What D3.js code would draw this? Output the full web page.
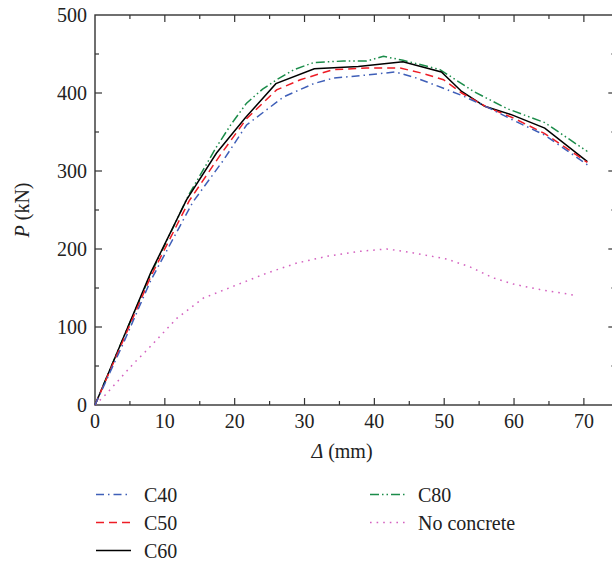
<!DOCTYPE html>
<html>
<head>
<meta charset="utf-8">
<script src="https://cdn.jsdelivr.net/npm/d3@7"></script>
<style>
  body { margin: 0; background: #fff; }
  svg { display: block; font-family: "Liberation Serif", "DejaVu Serif", serif; }
</style>
</head>
<body>
<div id="chart"></div>
<script>
// load-displacement curves, [delta (mm), P (kN)]
const c40 = [[0,0],[4,78],[8,160],[14,260],[18.4,314],[21.7,359],[27,395],[31.3,412],[34.1,419],[38.9,423],[43,427],[46.1,419],[49.9,406],[52.5,397],[56.6,380],[59.9,365],[64.4,346],[70.5,308]];
const c50 = [[0,0],[4,82],[8,165],[13.5,262],[17.9,320],[21.7,367],[26,404],[29.4,417],[34.1,430],[38.9,432],[43.7,432],[47,425],[49.9,417],[52.5,400],[56.1,382],[59.9,368],[64.4,348],[70.5,311]];
const c60 = [[0,0],[4,85],[8,170],[13.1,263],[17.4,323],[21.5,368],[25.9,412],[31.4,431],[37.7,434],[44.1,440],[49.6,427],[52.5,402],[55.8,383],[59.7,372],[64.4,355],[70.5,312]];
const c80 = [[0,0],[4,85],[8,168],[13.4,269],[17.4,331],[19.5,360],[21.7,387],[24,405],[26,417],[28.5,430],[31.3,439],[35.6,441],[38.9,441],[41.3,447],[44.1,442],[49.4,430],[54.2,402],[59,380],[64.4,362],[70.5,325]];
const noConcrete = [[0,0],[1.6,14],[3.6,34],[5.5,53],[7.4,70],[11.7,111],[15.5,137],[20.3,154],[24.6,169],[28.9,182],[33.4,191],[37.9,197],[41.8,200],[45.6,195],[50.4,187],[53.7,177],[57,163],[59.9,155],[63.7,148],[68.5,141]];

const seriesNames = ["C40", "C50", "C60", "C80", "No concrete"];
const seriesData = [c40, c50, c60, c80, noConcrete];
const xTicks = [0, 10, 20, 30, 40, 50, 60, 70];
const yTicks = [0, 100, 200, 300, 400, 500];

const styles = {
    "C40": {color: "#3f5fb8", dash: "8,4,1.5,4"},
    "C50": {color: "#ee1c25", dash: "8,5"},
    "C60": {color: "#000000", dash: null},
    "C80": {color: "#1b8c4a", dash: "9,3,1.5,3,1.5,3"},
    "No concrete": {color: "#d462c0", dash: "1.6,5"}
};

const width = 612, height = 566;
const plotLeft = 95, plotTop = 15, plotBottom = 405;
const xMax = 74.5;

const x = d3.scaleLinear().domain([0, xMax]).range([plotLeft, plotLeft + xMax * 6.984]);
const y = d3.scaleLinear().domain([0, 500]).range([plotBottom, plotTop]);

const svg = d3.select("#chart").append("svg")
    .attr("width", width)
    .attr("height", height);

const axisColor = "#333";

// frame
svg.append("rect")
    .attr("x", x(0)).attr("y", y(500))
    .attr("width", x(xMax) - x(0)).attr("height", y(0) - y(500))
    .attr("fill", "none").attr("stroke", axisColor).attr("stroke-width", 1.4);

// inward ticks on all four sides
const xMinor = d3.range(5, 75, 10);
const yMinor = d3.range(50, 500, 100);
const tickG = svg.append("g").attr("stroke", axisColor).attr("stroke-width", 1.2);

function xTickMarks(vals, len) {
    vals.forEach(v => {
        tickG.append("line").attr("x1", x(v)).attr("x2", x(v)).attr("y1", y(0)).attr("y2", y(0) - len);
        tickG.append("line").attr("x1", x(v)).attr("x2", x(v)).attr("y1", y(500)).attr("y2", y(500) + len);
    });
}
function yTickMarks(vals, len) {
    vals.forEach(v => {
        tickG.append("line").attr("y1", y(v)).attr("y2", y(v)).attr("x1", x(0)).attr("x2", x(0) + len);
        tickG.append("line").attr("y1", y(v)).attr("y2", y(v)).attr("x1", x(xMax)).attr("x2", x(xMax) - len);
    });
}
xTickMarks(xTicks.slice(1), 7);
xTickMarks(xMinor, 4);
yTickMarks(yTicks.slice(1, -1), 7);
yTickMarks(yMinor, 4);

// tick labels
svg.append("g").selectAll("text")
    .data(xTicks)
    .join("text")
    .attr("x", d => x(d))
    .attr("y", 428)
    .attr("text-anchor", "middle")
    .attr("font-size", 20)
    .attr("fill", "#222")
    .text(d => d);

svg.append("g").selectAll("text")
    .data(yTicks)
    .join("text")
    .attr("x", 87)
    .attr("y", d => y(d))
    .attr("dy", "0.34em")
    .attr("text-anchor", "end")
    .attr("font-size", 20)
    .attr("fill", "#222")
    .text(d => d);

// axis titles
const xTitle = svg.append("text")
    .attr("x", 342).attr("y", 458)
    .attr("text-anchor", "middle")
    .attr("font-size", 20)
    .attr("fill", "#222");
xTitle.append("tspan").attr("font-style", "italic").text("Δ");
xTitle.append("tspan").text(" (mm)");

const yTitle = svg.append("text")
    .attr("transform", "translate(29," + ((plotTop + plotBottom) / 2) + ") rotate(-90)")
    .attr("text-anchor", "middle")
    .attr("font-size", 20)
    .attr("fill", "#222");
yTitle.append("tspan").attr("font-style", "italic").text("P");
yTitle.append("tspan").text(" (kN)");

// curves
const line = d3.line()
    .x(d => x(d[0]))
    .y(d => y(d[1]));

svg.append("g").selectAll("path")
    .data(seriesData.map((d, i) => ({name: seriesNames[i], values: d})).reverse())
    .join("path")
    .attr("d", d => line(d.values))
    .attr("fill", "none")
    .attr("stroke", d => styles[d.name].color)
    .attr("stroke-width", 1.5)
    .attr("stroke-dasharray", d => styles[d.name].dash);

// legend, two columns
const legendPos = [
    {col: 0, row: 0}, {col: 0, row: 1}, {col: 0, row: 2},
    {col: 1, row: 0}, {col: 1, row: 1}
];
const colX = [96, 370];
const legend = svg.append("g").selectAll("g")
    .data(seriesNames)
    .join("g")
    .attr("transform", (d, i) => "translate(" + colX[legendPos[i].col] + "," + (502 + legendPos[i].row * 28) + ")");

legend.append("line")
    .attr("x1", 0).attr("x2", 35)
    .attr("y1", -7.5).attr("y2", -7.5)
    .attr("stroke", d => styles[d].color)
    .attr("stroke-width", 1.5)
    .attr("stroke-dasharray", d => styles[d].dash);

legend.append("text")
    .attr("x", 48)
    .attr("y", 0)
    .attr("font-size", 20)
    .attr("fill", "#222")
    .text(d => d);
</script>
</body>
</html>
